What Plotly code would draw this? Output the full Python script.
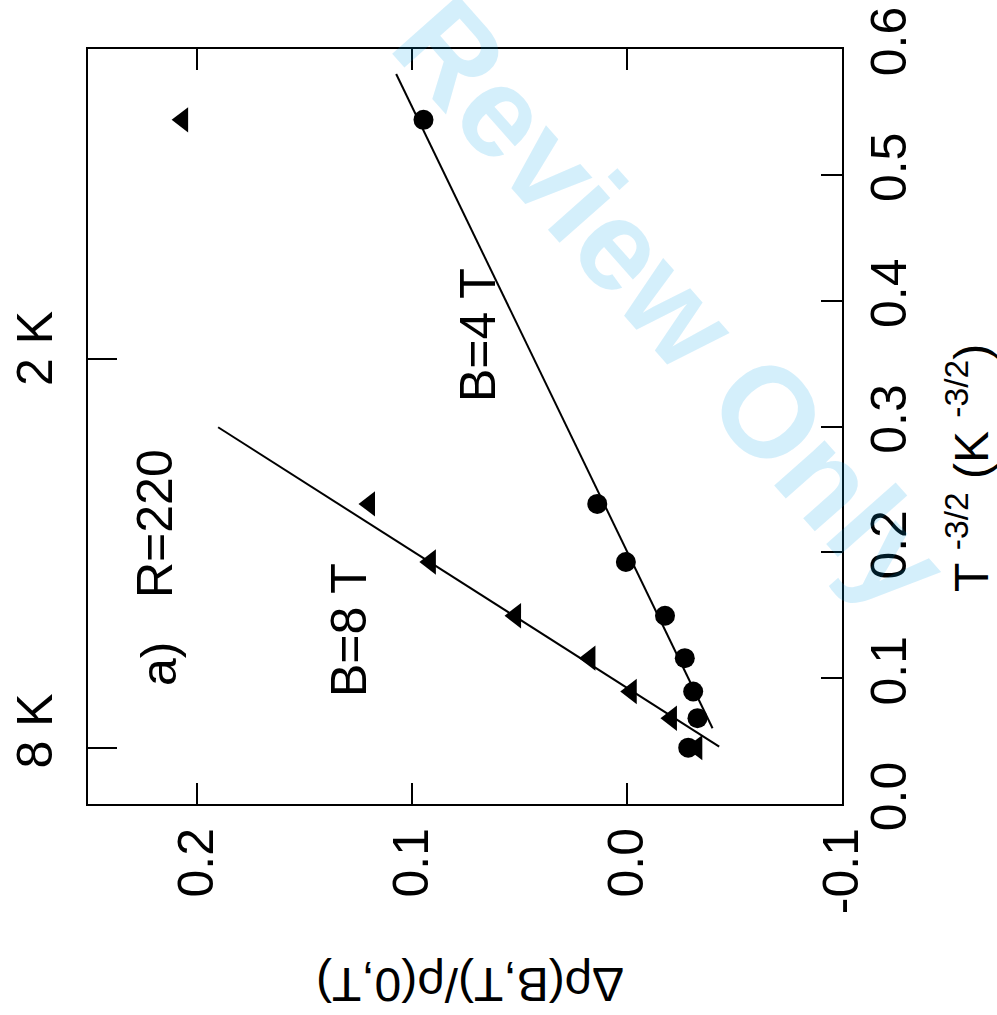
import plotly.graph_objects as go

# ---------------- data ----------------
# B = 4 T (circles): x = Δρ/ρ, y = T^-3/2
b4_drho = [0.0946, 0.0138, 0.0005, -0.0177, -0.0269, -0.0308, -0.0328, -0.0285]
b4_tinv = [0.5437, 0.2385, 0.1923, 0.1496, 0.1159, 0.0894, 0.0682, 0.0448]
# B = 8 T (triangles)
b8_drho = [0.2066, 0.1197, 0.0914, 0.0518, 0.0172, -0.0020, -0.0207, -0.0325]
b8_tinv = [0.5437, 0.2385, 0.1923, 0.1496, 0.1159, 0.0894, 0.0682, 0.0448]
# linear fits (end points)
fit4_drho = [0.1073, -0.0398]
fit4_tinv = [0.5801, 0.0602]
fit8_drho = [0.1901, -0.0429]
fit8_tinv = [0.2994, 0.0456]

x_ticks = [0.2, 0.1, 0.0, -0.1]
x_ticktext = ["0.2", "0.1", "0.0", "-0.1"]
y_ticks = [0.0, 0.1, 0.2, 0.3, 0.4, 0.5, 0.6]
y_ticktext = ["0.0", "0.1", "0.2", "0.3", "0.4", "0.5", "0.6"]
temp_ticks = [8, 2]
temp_ticktext = ["8 K", "2 K"]

FONT = "Liberation Sans, Arial, sans-serif"
FS = 50
L, R, T, B = 88, 842, 49, 804   # plot box in pixels
W, H = 997, 1015


def px(xp):
    return (xp - L) / (R - L)


def py(yp):
    return (B - yp) / (B - T)


fig = go.Figure()

fig.add_trace(go.Scatter(x=fit4_drho, y=fit4_tinv, mode="lines",
                         line=dict(color="black", width=2), showlegend=False))
fig.add_trace(go.Scatter(x=fit8_drho, y=fit8_tinv, mode="lines",
                         line=dict(color="black", width=2), showlegend=False))
fig.add_trace(go.Scatter(x=b8_drho, y=b8_tinv, mode="markers",
                         marker=dict(symbol="triangle-left", size=22, color="black",
                                     line=dict(width=0)), showlegend=False))
fig.add_trace(go.Scatter(x=b4_drho, y=b4_tinv, mode="markers",
                         marker=dict(symbol="circle", size=20, color="black",
                                     line=dict(width=0)), showlegend=False))
# invisible trace for the temperature (left) axis
fig.add_trace(go.Scatter(x=[fit4_drho[0]], y=[fit4_tinv[0]], yaxis="y2", mode="markers",
                         marker=dict(opacity=0), showlegend=False, hoverinfo="skip"))

fig.update_layout(
    width=W, height=H,
    margin=dict(l=L, r=W - R, t=T, b=H - B, autoexpand=False),
    paper_bgcolor="white", plot_bgcolor="white",
    font=dict(family=FONT, size=FS, color="black"),
    xaxis=dict(range=[0.2506, -0.1], tickvals=x_ticks, ticktext=x_ticktext,
               ticks="inside", ticklen=21, tickwidth=2, tickcolor="black",
               showline=True, linewidth=2, linecolor="black", mirror="ticks",
               tickangle=-90, tickfont=dict(size=FS), ticklabelstandoff=2,
               showgrid=False, zeroline=False, automargin=False),
    yaxis=dict(range=[0, 0.6], side="right", tickvals=y_ticks, ticktext=y_ticktext,
               ticks="inside", ticklen=21, tickwidth=2, tickcolor="black",
               showline=True, linewidth=2, linecolor="black", mirror=True,
               tickangle=-90, tickfont=dict(size=FS), ticklabelstandoff=2,
               showgrid=False, zeroline=False, automargin=False),
    yaxis2=dict(range=[0, 0.6], side="left", overlaying="y",
                tickvals=[t ** -1.5 for t in temp_ticks], ticktext=temp_ticktext,
                ticks="inside", ticklen=29, tickwidth=2, tickcolor="black",
                showticklabels=False, showline=False, showgrid=False, zeroline=False,
                automargin=False),
)


def note(xp, yp, text, angle=-90, size=FS, **kw):
    return dict(x=px(xp), y=py(yp), xref="paper", yref="paper", text=text,
                textangle=angle, showarrow=False, font=dict(size=size, **kw),
                xanchor="center", yanchor="middle")


ann = []
# left temperature labels
for t, txt, dy in zip(temp_ticks, temp_ticktext, [0.0135, 0.008]):
    ann.append(dict(x=px(35), y=t ** -1.5 + dy, xref="paper", yref="y", text=txt,
                    textangle=-90, showarrow=False, font=dict(size=FS),
                    xanchor="center", yanchor="middle"))
ann += [
    note(155, 524, "R=220"),
    note(159, 664, "a)"),
    note(349, 630, "B=8 T"),
    note(478, 335, "B=4 T"),
    # axis titles
    note(470, 984, "\u0394\u03c1(B,T)/\u03c1(0,T)", angle=180, size=48),
    note(968, 468, "T <sup>-3/2</sup> (K <sup>-3/2</sup>)", size=48),
    # watermark
    note(672, 302, "<b>Review Only</b>", angle=48.5, size=128,
         color="rgba(0,160,230,0.17)"),
]
fig.update_layout(annotations=ann)

fig.write_html("out.html", config={"displayModeBar": False},
               post_script="document.body.style.margin='0px';")
